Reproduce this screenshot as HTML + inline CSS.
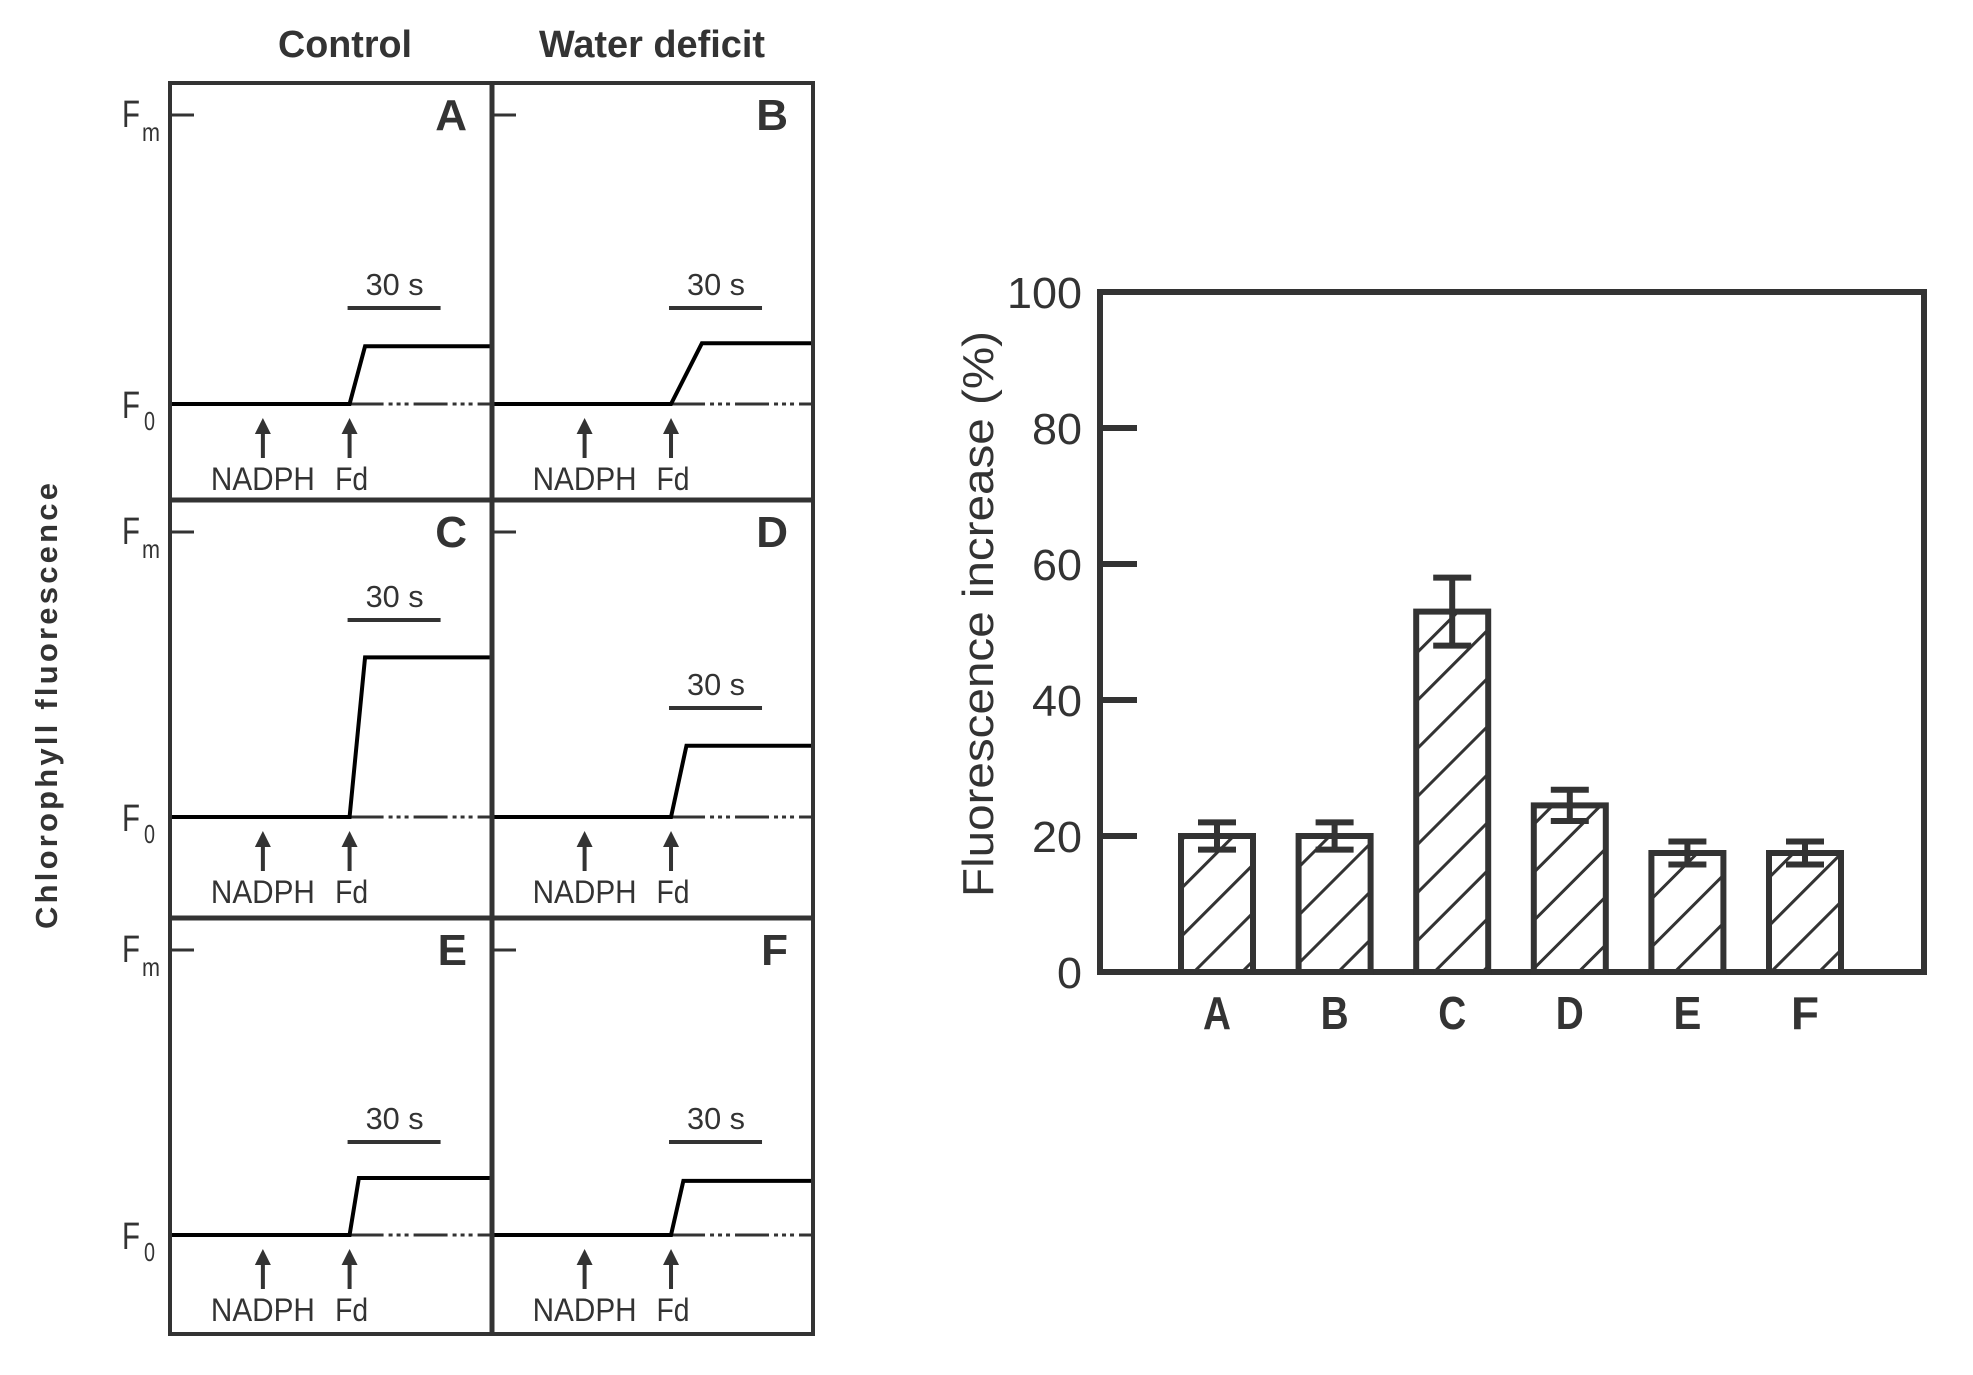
<!DOCTYPE html>
<html><head><meta charset="utf-8"><style>
html,body{margin:0;padding:0;background:#fff;}
svg{display:block;}
text{font-family:"Liberation Sans Narrow","Liberation Sans",sans-serif;fill:#333;}
</style></head><body>
<svg id="fig" width="1973" height="1375" viewBox="0 0 1973 1375" xmlns="http://www.w3.org/2000/svg">
<defs>
<pattern id="hatch" patternUnits="userSpaceOnUse" width="34" height="34" patternTransform="rotate(45)">
<line x1="0" y1="0" x2="0" y2="34" stroke="#333" stroke-width="6"/>
</pattern>
</defs>
<g id="left"></g>
<g id="right"></g>
</svg>
<script>
// ----- trace panel data -----
const panelLabels = ["A","B","C","D","E","F"];
const riseStart = [58, 58, 58, 58, 58, 58];      // s
const riseEnd = [63, 68, 63, 63, 61, 62];        // s
const plateau = [0.20, 0.21, 0.56, 0.25, 0.20, 0.19]; // fraction of Fm-F0
const nadphTime = [30, 30, 30, 30, 30, 30];
const fdTime = [58, 58, 58, 58, 58, 58];
// ----- bar chart data -----
const categories = ["A","B","C","D","E","F"];
const values = [20, 20, 53, 24.5, 17.5, 17.5];
const errors = [2, 2, 5, 2.3, 1.7, 1.7];
const yTicks = [0, 20, 40, 60, 80, 100];

const NS = "http://www.w3.org/2000/svg";
function mk(tag, attrs, parent, txt){
  const e = document.createElementNS(NS, tag);
  for (const k in attrs) e.setAttribute(k, attrs[k]);
  if (txt !== undefined) e.textContent = txt;
  parent.appendChild(e);
  return e;
}
function narrow(e, len){
  e.setAttribute('textLength', len);
  e.setAttribute('lengthAdjust', 'spacingAndGlyphs');
  return e;
}
const L = document.getElementById('left');
const R = document.getElementById('right');

// Headers
let t = narrow(mk('text', {x:345, y:57, 'font-size':38, 'font-weight':'bold', 'text-anchor':'middle'}, L, 'Control'), 134);


t = narrow(mk('text', {x:652, y:57, 'font-size':38, 'font-weight':'bold', 'text-anchor':'middle'}, L, 'Water deficit'), 226);


t = mk('text', {x:0, y:0, 'font-size':31, 'font-weight':'bold', 'text-anchor':'middle', transform:'translate(57,706) rotate(-90)', style:'font-family:"Liberation Sans",sans-serif', textLength:446}, L, 'Chlorophyll fluorescence');



const colX = [170, 492];
const colW = [322, 321];
const rowY = [83, 500, 918];
const fmOff = 32, f0Off = 321;
const tMax = 104;

for (let i = 0; i < 6; i++) {
  const c = i % 2, r = Math.floor(i / 2);
  const x0 = colX[c], y0 = rowY[r], w = colW[c];
  const g = mk('g', {}, L);
  
  
  const xs = s => x0 + s / tMax * w;
  const fmY = y0 + fmOff, f0Y = y0 + f0Off - (r > 0 ? 4 : 0);
  const ys = f => f0Y - f * (f0Y - fmY);
  let e = mk('line', {x1:x0, x2:x0+24, y1:fmY, y2:fmY, stroke:'#333', 'stroke-width':3}, g);
  
  
  if (c === 0) {
    e = narrow(mk('text', {x:122, y:fmY+12, 'font-size':38}, g, 'F'), 18);
    
    
    narrow(mk('text', {x:142, y:fmY+26, 'font-size':26}, g, 'm'), 18);
    e = narrow(mk('text', {x:122, y:f0Y+14, 'font-size':38}, g, 'F'), 18);
    
    
    narrow(mk('text', {x:144, y:f0Y+26, 'font-size':26}, g, '0'), 11);
  }
  e = mk('text', {x:x0+w-25, y:y0+47, 'font-size':44, 'font-weight':'bold', 'text-anchor':'end', style:'font-family:"Liberation Sans",sans-serif'}, g, panelLabels[i]);
  
  
  e = mk('line', {x1:xs(fdTime[i]), x2:x0+w, y1:f0Y, y2:f0Y, stroke:'#333', 'stroke-width':3, 'stroke-dasharray':'34 5 4 4 4 4 4 5'}, g);
  
  
  const d = `M${x0},${ys(0)} L${xs(riseStart[i])},${ys(0)} L${xs(riseEnd[i])},${ys(plateau[i])} L${x0+w},${ys(plateau[i])}`;
  e = mk('path', {d:d, fill:'none', stroke:'#000', 'stroke-width':4}, g);
  
  
  const sbx = xs(fdTime[i]) - 2;
  const barY = (i===3) ? 708 : (i===2 ? 620 : (r===0 ? 308 : 1142));
  e = mk('line', {x1:sbx, x2:sbx+93, y1:barY, y2:barY, stroke:'#333', 'stroke-width':4}, g);
  
  
  e = narrow(mk('text', {x:sbx+47, y:barY-13, 'font-size':31, 'text-anchor':'middle'}, g, '30 s'), 58);
  
  
  const ay1 = f0Y + 14, ay2 = f0Y + 54;
  [[nadphTime[i],'NADPH','nadph',104],[fdTime[i],'Fd','fd',33]].forEach(([tt,lab,nm,len]) => {
    const ax = xs(tt);
    const a = mk('g', {}, g);
    
    
    mk('line', {x1:ax, x2:ax, y1:ay1+12, y2:ay2, stroke:'#333', 'stroke-width':4}, a);
    mk('polygon', {points:`${ax-8},${ay1+16} ${ax+8},${ay1+16} ${ax},${ay1}`, fill:'#333'}, a);
    narrow(mk('text', {x:ax + (nm==='fd'?2:0), y:ay2+32, 'font-size':32, 'text-anchor':'middle'}, a, lab), len);
  });
}
let e = mk('rect', {x:170, y:83, width:643, height:1251, fill:'none', stroke:'#333', 'stroke-width':4}, L);


mk('line', {x1:492, x2:492, y1:83, y2:1334, stroke:'#333', 'stroke-width':5}, L);
mk('line', {x1:170, x2:813, y1:500, y2:500, stroke:'#333', 'stroke-width':5}, L);
mk('line', {x1:170, x2:813, y1:918, y2:918, stroke:'#333', 'stroke-width':5}, L);

// ----- bar chart -----
const px0 = 1100, px1 = 1924, py0 = 972, py1 = 292;
const yScale = v => py0 - v / 100 * (py0 - py1);
const xCenter = i => 1217 + i * 117.6;
const barW = 72;
e = mk('rect', {x:px0, y:py1, width:px1-px0, height:py0-py1, fill:'none', stroke:'#333', 'stroke-width':6}, R);


yTicks.forEach(v => {
  const y = yScale(v);
  if (v > 0 && v < 100) {
    const tk = mk('line', {x1:px0, x2:px0+37, y1:y, y2:y, stroke:'#333', 'stroke-width':6}, R);
    
    
  }
  const s = String(v);
  const tl = narrow(mk('text', {x:1082, y:y+16, 'font-size':44, 'text-anchor':'end'}, R, s), s.length * 25);
  
  
});
e = mk('text', {x:0, y:0, 'font-size':44, 'text-anchor':'middle', transform:'translate(993,614) rotate(-90)', style:'font-family:"Liberation Sans",sans-serif', textLength:566, lengthAdjust:'spacingAndGlyphs'}, R, 'Fluorescence increase (%)');


categories.forEach((cat, i) => {
  const cx = xCenter(i), y = yScale(values[i]);
  const b = mk('rect', {x:cx-barW/2, y:y, width:barW, height:py0-y, fill:'url(#hatch)', stroke:'#333', 'stroke-width':6}, R);
  
  
  const eg = mk('g', {stroke:'#333', 'stroke-width':6}, R);
  
  
  const yt = yScale(values[i] + errors[i]), yb = yScale(values[i] - errors[i]);
  mk('line', {x1:cx, x2:cx, y1:yt, y2:yb}, eg);
  mk('line', {x1:cx-19, x2:cx+19, y1:yt, y2:yt}, eg);
  mk('line', {x1:cx-19, x2:cx+19, y1:yb, y2:yb}, eg);
  const xl = narrow(mk('text', {x:cx, y:1029, 'font-size':46, 'font-weight':'bold', 'text-anchor':'middle', style:'font-family:"Liberation Sans",sans-serif'}, R, cat), 28);
  
  
});
</script>
</body></html>
